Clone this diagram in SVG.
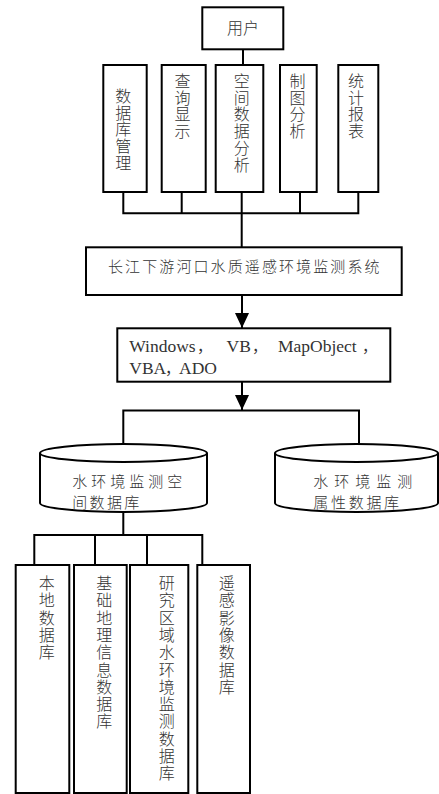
<svg xmlns="http://www.w3.org/2000/svg" width="439" height="794" viewBox="0 0 439 794">
  <style>
    .box { fill: #fff; stroke: #000; stroke-width: 2; }
    .db { fill: #fff; stroke: #000; stroke-width: 2; }
    .ln { fill: none; stroke: #000; stroke-width: 2; }
    .cn { font-family: "Liberation Serif", "Noto Sans CJK SC", serif; font-weight: 300; fill: #333; }
    .vt { font-size: 16px; text-anchor: middle; }
    .ht { font-size: 15px; }
    .lat { font-family: "Liberation Serif", "Times New Roman", serif; font-weight: normal; font-size: 17.5px; fill: #333; }
    .fw { font-family: "Noto Sans CJK SC", sans-serif; font-size: 15px; }
  </style>
  <defs>
    <marker id="arrow" viewBox="0 0 15 14" refX="15" refY="7" markerWidth="15" markerHeight="14" markerUnits="userSpaceOnUse" orient="auto">
      <path d="M0,0 L15,7 L0,14 Z" fill="#000"/>
    </marker>
  </defs>

  <!-- connectors -->
  <g id="connectors">
    <line class="ln" x1="243" y1="49" x2="243" y2="65"/>
    <!-- function bus -->
    <path class="ln" d="M123.3,192 V213.3 M181.7,192 V213.3 M241.7,192 V213.3 M300,192 V213.3 M358.3,192 V213.3 M122.3,213.3 H359.3 M241.7,213.3 V247"/>
    <line class="ln" x1="242" y1="295" x2="242" y2="328" marker-end="url(#arrow)"/>
    <line class="ln" x1="242" y1="382" x2="242" y2="410" marker-end="url(#arrow)"/>
    <!-- database bus -->
    <path class="ln" d="M123.3,410.5 H359 M123.3,409.5 V445 M359,409.5 V445"/>
    <!-- sub-database bus -->
    <path class="ln" d="M123.3,511 V535 M33.3,535 H203.3 M34.3,534 V565 M95,534 V565 M147,534 V565 M202.3,534 V565"/>
  </g>

  <g id="user">
    <rect class="box" x="202.3" y="7.3" width="81" height="42"/>
    <text class="cn" x="243" y="34" font-size="16" text-anchor="middle">用户</text>
  </g>

  <g id="db-manage">
    <rect class="box" x="103.3" y="65" width="43.4" height="127"/>
    <text class="cn vt" x="123.3" y="102"><tspan x="123.3">数</tspan><tspan x="123.3" dy="16.7">据</tspan><tspan x="123.3" dy="16.7">库</tspan><tspan x="123.3" dy="16.7">管</tspan><tspan x="123.3" dy="16.7">理</tspan></text>
  </g>
  <g id="query">
    <rect class="box" x="161.7" y="65" width="44" height="127"/>
    <text class="cn vt" x="182.5" y="87"><tspan x="182.5">查</tspan><tspan x="182.5" dy="16.7">询</tspan><tspan x="182.5" dy="16.7">显</tspan><tspan x="182.5" dy="16.7">示</tspan></text>
  </g>
  <g id="spatial">
    <rect class="box" x="215.7" y="65" width="47.6" height="127"/>
    <text class="cn vt" x="241.7" y="87"><tspan x="241.7">空</tspan><tspan x="241.7" dy="16.7">间</tspan><tspan x="241.7" dy="16.7">数</tspan><tspan x="241.7" dy="16.7">据</tspan><tspan x="241.7" dy="16.7">分</tspan><tspan x="241.7" dy="16.7">析</tspan></text>
  </g>
  <g id="mapping">
    <rect class="box" x="280" y="65" width="36.7" height="127"/>
    <text class="cn vt" x="297.5" y="87"><tspan x="297.5">制</tspan><tspan x="297.5" dy="16.7">图</tspan><tspan x="297.5" dy="16.7">分</tspan><tspan x="297.5" dy="16.7">析</tspan></text>
  </g>
  <g id="stats">
    <rect class="box" x="338.3" y="65" width="40" height="127"/>
    <text class="cn vt" x="356" y="87"><tspan x="356">统</tspan><tspan x="356" dy="16.7">计</tspan><tspan x="356" dy="16.7">报</tspan><tspan x="356" dy="16.7">表</tspan></text>
  </g>

  <g id="system">
    <rect class="box" x="86" y="247.3" width="315.7" height="47.7"/>
    <text class="cn ht" x="108" y="272" letter-spacing="2.1">长江下游河口水质遥感环境监测系统</text>
  </g>

  <g id="platform">
    <rect class="box" x="117.3" y="328.3" width="273" height="53.4"/>
    <text class="lat" y="352"><tspan x="129.3">Windows</tspan><tspan class="fw" x="197">，</tspan><tspan x="226.5">VB</tspan><tspan class="fw" x="252">，</tspan><tspan x="278">MapObject</tspan><tspan class="fw" x="362">，</tspan></text>
    <text class="lat" y="373.5"><tspan x="129.3">VBA</tspan><tspan class="fw" x="165">，</tspan><tspan x="179">ADO</tspan></text>
  </g>

  <g id="spatial-db">
    <path class="db" d="M40,453 V503 A83.5,9 0 0 0 207,503 V453"/>
    <ellipse class="db" cx="123.5" cy="453" rx="83.5" ry="9"/>
    <text class="cn ht" x="72.3" y="486.5" letter-spacing="4">水环境监测空</text>
    <text class="cn ht" x="72.3" y="508" letter-spacing="2.3">间数据库</text>
  </g>
  <g id="attribute-db">
    <path class="db" d="M275,453 V503 A81.5,9 0 0 0 438,503 V453"/>
    <ellipse class="db" cx="356.5" cy="453" rx="81.5" ry="9"/>
    <text class="cn ht" x="313.3" y="486.5" letter-spacing="6">水环境监测</text>
    <text class="cn ht" x="313.3" y="508" letter-spacing="2.7">属性数据库</text>
  </g>

  <g id="local-db">
    <rect class="box" x="15.7" y="565" width="53.6" height="228"/>
    <text class="cn vt" x="46.7" y="589"><tspan x="46.7">本</tspan><tspan x="46.7" dy="17.3">地</tspan><tspan x="46.7" dy="17.3">数</tspan><tspan x="46.7" dy="17.3">据</tspan><tspan x="46.7" dy="17.3">库</tspan></text>
  </g>
  <g id="geo-db">
    <rect class="box" x="74" y="565" width="52.7" height="228"/>
    <text class="cn vt" x="104.3" y="589"><tspan x="104.3">基</tspan><tspan x="104.3" dy="17.3">础</tspan><tspan x="104.3" dy="17.3">地</tspan><tspan x="104.3" dy="17.3">理</tspan><tspan x="104.3" dy="17.3">信</tspan><tspan x="104.3" dy="17.3">息</tspan><tspan x="104.3" dy="17.3">数</tspan><tspan x="104.3" dy="17.3">据</tspan><tspan x="104.3" dy="17.3">库</tspan></text>
  </g>
  <g id="monitor-db">
    <rect class="box" x="130" y="565" width="58.3" height="228"/>
    <text class="cn vt" x="166.7" y="589"><tspan x="166.7">研</tspan><tspan x="166.7" dy="17.3">究</tspan><tspan x="166.7" dy="17.3">区</tspan><tspan x="166.7" dy="17.3">域</tspan><tspan x="166.7" dy="17.3">水</tspan><tspan x="166.7" dy="17.3">环</tspan><tspan x="166.7" dy="17.3">境</tspan><tspan x="166.7" dy="17.3">监</tspan><tspan x="166.7" dy="17.3">测</tspan><tspan x="166.7" dy="17.3">数</tspan><tspan x="166.7" dy="17.3">据</tspan><tspan x="166.7" dy="17.3">库</tspan></text>
  </g>
  <g id="rs-db">
    <rect class="box" x="197.3" y="565" width="52.7" height="228"/>
    <text class="cn vt" x="226.7" y="589"><tspan x="226.7">遥</tspan><tspan x="226.7" dy="17.3">感</tspan><tspan x="226.7" dy="17.3">影</tspan><tspan x="226.7" dy="17.3">像</tspan><tspan x="226.7" dy="17.3">数</tspan><tspan x="226.7" dy="17.3">据</tspan><tspan x="226.7" dy="17.3">库</tspan></text>
  </g>
</svg>
